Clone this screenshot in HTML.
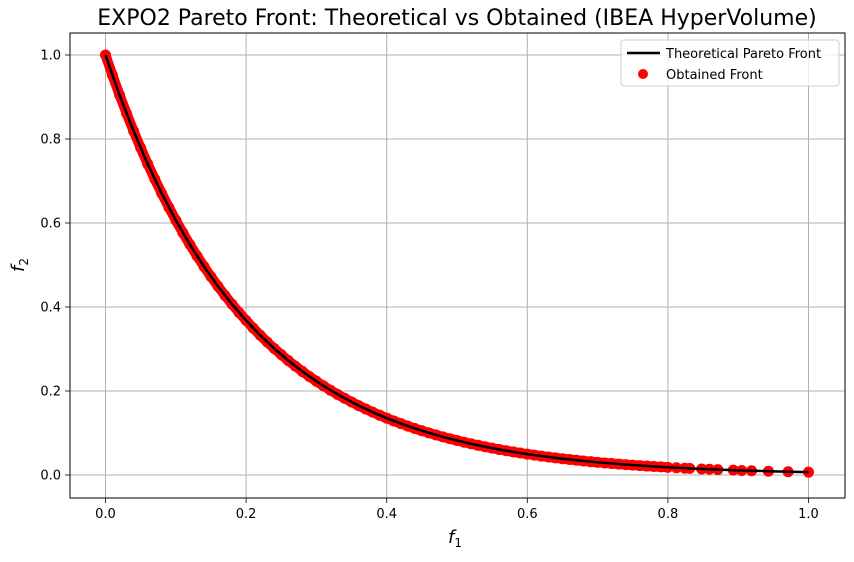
<!DOCTYPE html>
<html><head><meta charset="utf-8"><style>
body{margin:0;background:#fff;}
svg text{font-family:"DejaVu Sans","Liberation Sans",sans-serif;}
</style></head><body>
<svg id="chart" width="854" height="557" viewBox="0 0 854 557" xmlns="http://www.w3.org/2000/svg">
<text x="457" y="25" font-size="22" text-anchor="middle">EXPO2 Pareto Front: Theoretical vs Obtained (IBEA HyperVolume)</text>
<g id="grid"></g>
<g id="series"></g>
<rect x="70" y="33" width="775" height="465" fill="none" stroke="#000" stroke-width="1"/>
<g id="ticks"></g>
<text x="455" y="543" font-size="18" text-anchor="middle" font-style="italic">f<tspan font-size="12" dy="4" font-style="normal">1</tspan></text>
<text transform="translate(24,265) rotate(-90)" font-size="18" text-anchor="middle" font-style="italic">f<tspan font-size="12" dy="4" font-style="normal">2</tspan></text>
<g>
<rect x="621" y="40" width="218" height="46" rx="3" fill="#fff" fill-opacity="0.8" stroke="#ccc"/>
<line x1="627" y1="53" x2="660" y2="53" stroke="#000" stroke-width="2.5"/>
<text x="666" y="58" font-size="13">Theoretical Pareto Front</text>
<circle cx="643" cy="74" r="5" fill="red"/>
<text x="666" y="79" font-size="13">Obtained Front</text>
</g>
</svg>
<script>
const xTicks=[0,0.2,0.4,0.6,0.8,1.0];
const xTickLabels=["0.0","0.2","0.4","0.6","0.8","1.0"];
const yTicks=[0,0.2,0.4,0.6,0.8,1.0];
const yTickLabels=["0.0","0.2","0.4","0.6","0.8","1.0"];
const theoF1=[0,0.02,0.04,0.06,0.08,0.10,0.12,0.14,0.16,0.18,0.20,0.22,0.24,0.26,0.28,0.30,0.32,0.34,0.36,0.38,0.40,0.42,0.44,0.46,0.48,0.50,0.52,0.54,0.56,0.58,0.60,0.65,0.70,0.75,0.80,0.85,0.90,0.95,1.0];
const theoF2=[1,0.9048,0.8187,0.7408,0.6703,0.6065,0.5488,0.4966,0.4493,0.4066,0.3679,0.3329,0.3012,0.2725,0.2466,0.2231,0.2019,0.1827,0.1653,0.1496,0.1353,0.1225,0.1108,0.1003,0.0907,0.0821,0.0743,0.0672,0.0608,0.0550,0.0498,0.0388,0.0302,0.0235,0.0183,0.0143,0.0111,0.0087,0.0067];
const obsF1=[0,0.01,0.02,0.03,0.04,0.05,0.06,0.07,0.08,0.09,0.10,0.11,0.12,0.13,0.14,0.15,0.16,0.17,0.18,0.19,0.20,0.21,0.22,0.23,0.24,0.25,0.26,0.27,0.28,0.29,0.30,0.31,0.32,0.33,0.34,0.35,0.36,0.37,0.38,0.39,0.40,0.41,0.42,0.43,0.44,0.45,0.46,0.47,0.48,0.49,0.50,0.51,0.52,0.53,0.54,0.55,0.56,0.57,0.58,0.59,0.60,0.61,0.62,0.63,0.64,0.65,0.66,0.67,0.68,0.69,0.70,0.71,0.72,0.73,0.74,0.75,0.76,0.77,0.78,0.79,0.80,0.812,0.824,0.831,0.848,0.859,0.871,0.893,0.905,0.919,0.943,0.971,1.0];
const obsF2=[1,0.9512,0.9048,0.8607,0.8187,0.7788,0.7408,0.7047,0.6703,0.6376,0.6065,0.5769,0.5488,0.5220,0.4966,0.4724,0.4493,0.4274,0.4066,0.3867,0.3679,0.3499,0.3329,0.3166,0.3012,0.2865,0.2725,0.2592,0.2466,0.2346,0.2231,0.2122,0.2019,0.1920,0.1827,0.1738,0.1653,0.1572,0.1496,0.1423,0.1353,0.1287,0.1225,0.1165,0.1108,0.1054,0.1003,0.0954,0.0907,0.0863,0.0821,0.0781,0.0743,0.0707,0.0672,0.0639,0.0608,0.0578,0.0550,0.0523,0.0498,0.0474,0.0450,0.0429,0.0408,0.0388,0.0369,0.0351,0.0334,0.0317,0.0302,0.0287,0.0273,0.0260,0.0247,0.0235,0.0224,0.0213,0.0202,0.0193,0.0183,0.0172,0.0162,0.0157,0.0144,0.0136,0.0128,0.0115,0.0108,0.0101,0.0090,0.0078,0.0067];

const NS="http://www.w3.org/2000/svg";
function xs(v){return 105.5+703*v;}
function ys(v){return 475-420*v;}
function mk(tag,attrs,parent){const e=document.createElementNS(NS,tag);for(const k in attrs)e.setAttribute(k,attrs[k]);parent.appendChild(e);return e;}
const grid=document.getElementById('grid'),ticks=document.getElementById('ticks'),series=document.getElementById('series');
xTicks.forEach((v,i)=>{
  const g=mk('line',{x1:xs(v),x2:xs(v),y1:33,y2:498,stroke:'#b0b0b0','stroke-width':1},grid);
  
  
  const t=mk('line',{x1:xs(v),x2:xs(v),y1:498,y2:503,stroke:'#000','stroke-width':0.8},ticks);
  
  
  const l=mk('text',{x:xs(v),y:518,'font-size':13,'text-anchor':'middle'},ticks);
  l.textContent=xTickLabels[i];
  
  
});
yTicks.forEach((v,i)=>{
  const g=mk('line',{x1:70,x2:845,y1:ys(v),y2:ys(v),stroke:'#b0b0b0','stroke-width':1},grid);
  
  
  const t=mk('line',{x1:65,x2:70,y1:ys(v),y2:ys(v),stroke:'#000','stroke-width':0.8},ticks);
  
  
  const l=mk('text',{x:61,y:ys(v)+4.5,'font-size':13,'text-anchor':'end'},ticks);
  l.textContent=yTickLabels[i];
  
  
});
const bandPts=obsF1.map((v,i)=>[v,obsF2[i]]).filter(p=>p[0]<=0.8);
const band=mk('polyline',{points:bandPts.map(p=>xs(p[0])+','+ys(p[1])).join(' '),fill:'none',stroke:'red','stroke-width':10,'stroke-linejoin':'round','stroke-linecap':'round'},series);


obsF1.forEach((v,i)=>{
  const c=mk('circle',{cx:xs(v),cy:ys(obsF2[i]),r:5.5,fill:'red'},series);
  
  
});
const line=mk('polyline',{points:theoF1.map((v,i)=>xs(v)+','+ys(theoF2[i])).join(' '),fill:'none',stroke:'#000','stroke-width':2.5,'stroke-linejoin':'round'},series);


</script>
</body></html>
